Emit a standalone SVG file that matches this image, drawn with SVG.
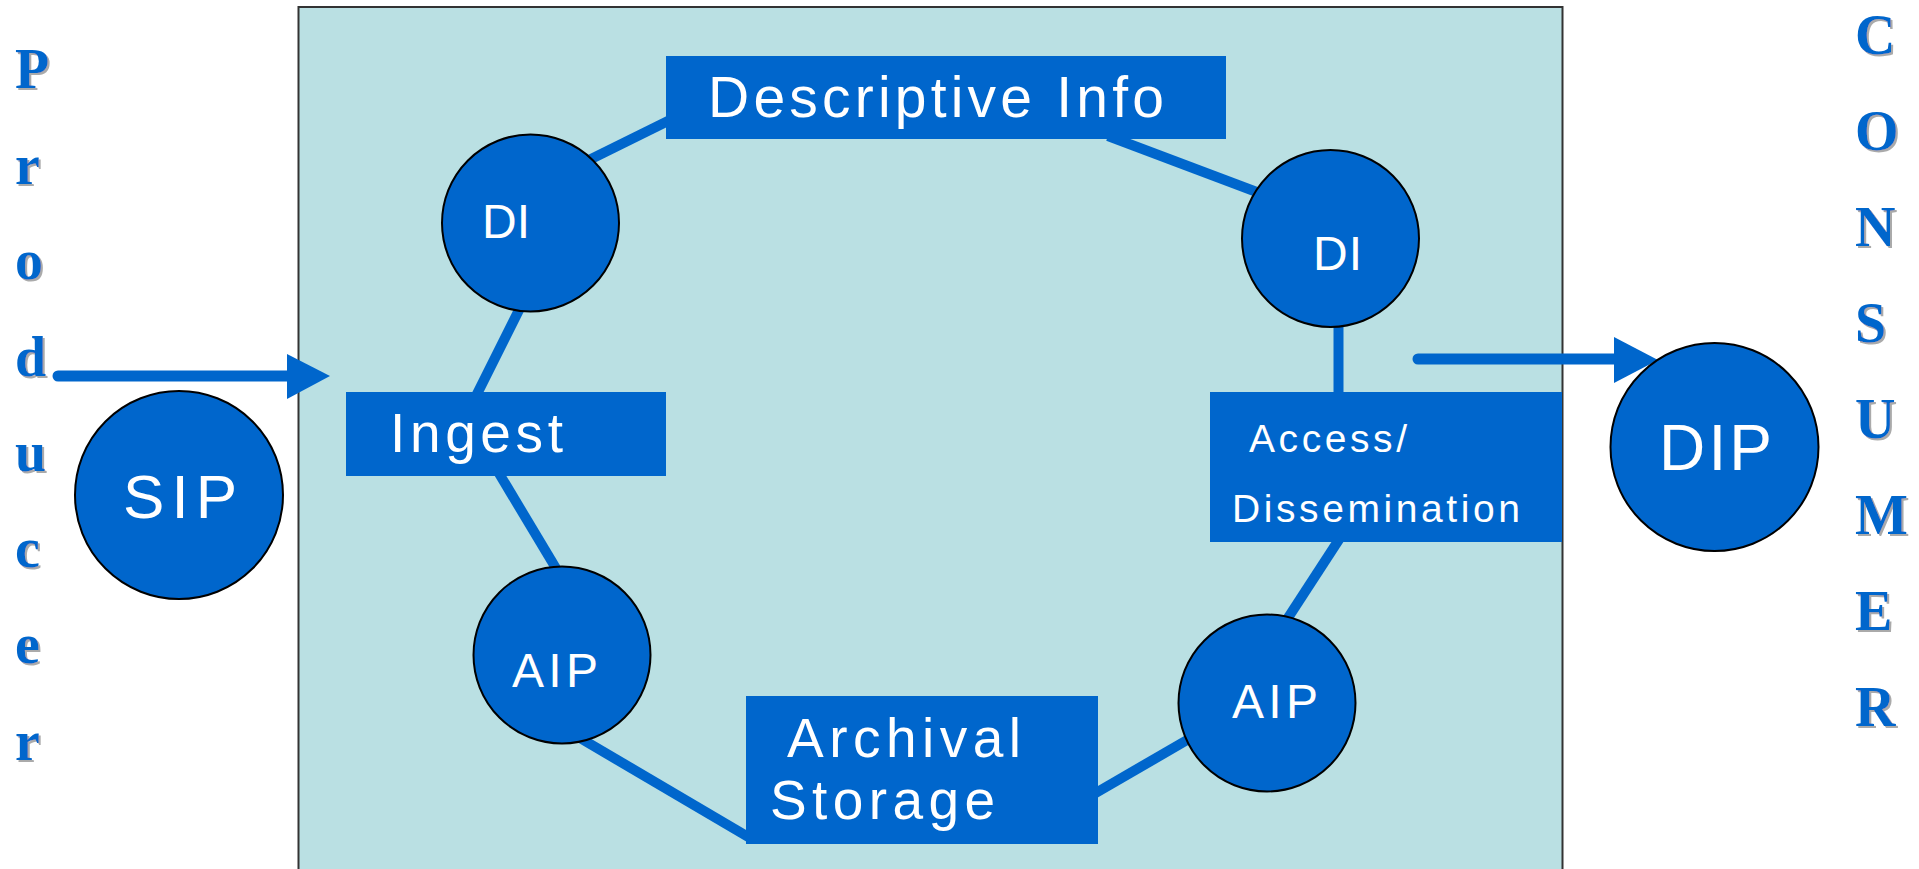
<svg xmlns="http://www.w3.org/2000/svg" width="1919" height="869" viewBox="0 0 1919 869">
<style>
.box{fill:#0066CC;}
.circ{fill:#0066CC;stroke:#000;stroke-width:2;}
.lbl{fill:#fff;font-family:"Liberation Sans",Arial,sans-serif;}
.con{stroke:#0066CC;stroke-width:10;fill:none;}
.arr{stroke:#0066CC;stroke-width:11;stroke-linecap:round;fill:none;}
.head{fill:#0066CC;}
.side{fill:#0066CC;font-family:"Liberation Serif","Times New Roman",serif;font-weight:bold;font-size:56px;filter:url(#sh);}
</style>
<defs>
<filter id="sh" x="-20%" y="-20%" width="150%" height="150%">
<feDropShadow dx="2" dy="2" stdDeviation="0.3" flood-color="#aaaaaa"/>
</filter>
</defs>
<rect width="1919" height="869" fill="#fff"/>
<g id="archive-boundary">
<rect x="298.5" y="7" width="1264" height="880" fill="#BAE0E3" stroke="#333" stroke-width="2"/>
</g>
<g id="connectors">
<line class="con" x1="585" y1="162" x2="670" y2="120"/>
<line class="con" x1="1108" y1="136" x2="1262" y2="194"/>
<line class="con" x1="524" y1="300" x2="476" y2="396"/>
<line class="con" x1="497" y1="470" x2="560" y2="575"/>
<line class="con" x1="580" y1="738" x2="750" y2="838"/>
<line class="con" x1="1094" y1="794" x2="1194" y2="736"/>
<line class="con" x1="1338.5" y1="320" x2="1338.5" y2="396"/>
<line class="con" x1="1340" y1="538" x2="1284" y2="624"/>
<line class="arr" x1="58" y1="376" x2="292" y2="376"/>
<polygon class="head" points="287,354 330,376 287,399"/>
<line class="arr" x1="1418" y1="359" x2="1620" y2="359"/>
<polygon class="head" points="1614,337 1658,360 1614,383"/>
</g>
<g id="producer">
<text class="side"><tspan x="15" y="88">P</tspan><tspan x="15" y="184">r</tspan><tspan x="15" y="279">o</tspan><tspan x="15" y="376">d</tspan><tspan x="15" y="471">u</tspan><tspan x="15" y="567">c</tspan><tspan x="15" y="663">e</tspan><tspan x="15" y="760">r</tspan></text>
</g>
<g id="consumer">
<text class="side"><tspan x="1855" y="54">C</tspan><tspan x="1855" y="150">O</tspan><tspan x="1855" y="246">N</tspan><tspan x="1855" y="342">S</tspan><tspan x="1855" y="438">U</tspan><tspan x="1855" y="534">M</tspan><tspan x="1855" y="630">E</tspan><tspan x="1855" y="726">R</tspan></text>
</g>
<g id="descriptive-info">
<rect class="box" x="666" y="56" width="560" height="83"/>
<text class="lbl" x="708" y="117" font-size="57" textLength="456" lengthAdjust="spacing">Descriptive Info</text>
</g>
<g id="ingest">
<rect class="box" x="346" y="392" width="320" height="84"/>
<text class="lbl" x="390" y="452" font-size="55" textLength="173" lengthAdjust="spacing">Ingest</text>
</g>
<g id="access-dissemination">
<rect class="box" x="1210" y="392" width="352" height="150"/>
<text class="lbl" x="1249" y="452" font-size="39" textLength="158" lengthAdjust="spacing">Access/</text>
<text class="lbl" x="1232" y="522" font-size="39" textLength="288" lengthAdjust="spacing">Dissemination</text>
</g>
<g id="archival-storage">
<rect class="box" x="746" y="696" width="352" height="148"/>
<text class="lbl" x="787" y="757" font-size="55" textLength="234" lengthAdjust="spacing">Archival</text>
<text class="lbl" x="770" y="819" font-size="55" textLength="225" lengthAdjust="spacing">Storage</text>
</g>
<g id="di-left">
<circle class="circ" cx="530.5" cy="223" r="88.5"/>
<text class="lbl" x="482" y="238" font-size="48" textLength="48" lengthAdjust="spacing">DI</text>
</g>
<g id="di-right">
<circle class="circ" cx="1330.5" cy="238.5" r="88.5"/>
<text class="lbl" x="1313" y="270" font-size="48" textLength="49" lengthAdjust="spacing">DI</text>
</g>
<g id="aip-left">
<circle class="circ" cx="562" cy="655" r="88.5"/>
<text class="lbl" x="512" y="687" font-size="48" textLength="86" lengthAdjust="spacing">AIP</text>
</g>
<g id="aip-right">
<circle class="circ" cx="1267" cy="703" r="88.5"/>
<text class="lbl" x="1232" y="718" font-size="48" textLength="86" lengthAdjust="spacing">AIP</text>
</g>
<g id="sip">
<circle class="circ" cx="179" cy="495" r="104"/>
<text class="lbl" x="123" y="518" font-size="62" textLength="114" lengthAdjust="spacing">SIP</text>
</g>
<g id="dip">
<circle class="circ" cx="1714.5" cy="447" r="104"/>
<text class="lbl" x="1659" y="470" font-size="64" textLength="113" lengthAdjust="spacing">DIP</text>
</g>
</svg>
